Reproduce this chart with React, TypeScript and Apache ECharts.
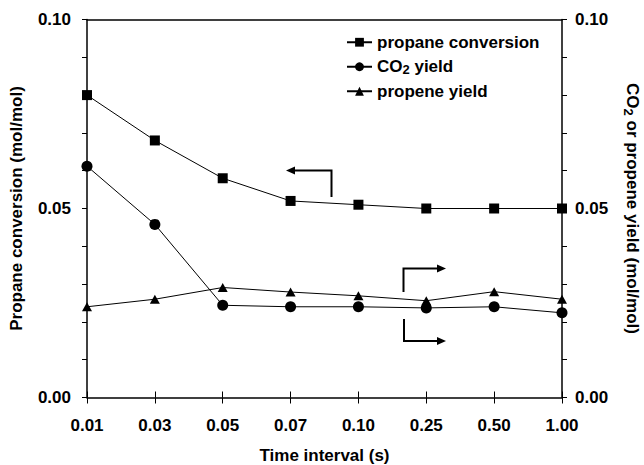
import React, { useEffect, useRef } from "react";
import * as echarts from "echarts";

const categories = ["0.01", "0.03", "0.05", "0.07", "0.10", "0.25", "0.50", "1.00"];
const propaneConversion = [0.080, 0.068, 0.058, 0.052, 0.051, 0.050, 0.050, 0.050];
const co2Yield = [0.0612, 0.0458, 0.0244, 0.0240, 0.0240, 0.0237, 0.0240, 0.0224];
const propeneYield = [0.0240, 0.0260, 0.0291, 0.0279, 0.0269, 0.0256, 0.0280, 0.0260];
const seriesNames = ["propane conversion", "CO2 yield", "propene yield"];

const FONT = "'Liberation Sans', Arial, sans-serif";
const FS = 17;

export default function App() {
  const ref = useRef<HTMLDivElement>(null);
  useEffect(() => {
    if (!ref.current) return;
    const chart = echarts.init(ref.current, undefined, { renderer: "svg" });
    const labelFmt = (v: number) => (Math.round(v * 100) % 5 === 0 ? v.toFixed(2) : "");
    const subRich = {
      sub: { fontSize: 13, fontWeight: "bold", fontFamily: FONT, color: "#000", verticalAlign: "bottom", padding: [8, 0, 0, 0] },
    };
    const yBase = (pos: string, name: string, gap: number, rot: number, margin: number) => ({
      type: "value",
      position: pos,
      min: 0,
      max: 0.1,
      interval: 0.01,
      name,
      nameLocation: "middle",
      nameGap: gap,
      nameRotate: rot,
      nameTextStyle: { fontSize: FS, fontWeight: "bold", fontFamily: FONT, color: "#000", rich: subRich },
      axisLine: { show: true, lineStyle: { color: "#000", width: 1.5 } },
      axisTick: { show: true, inside: false, length: 5, lineStyle: { color: "#000", width: 1 } },
      axisLabel: { formatter: labelFmt, fontSize: FS, fontWeight: "bold", fontFamily: FONT, color: "#000", margin },
      splitLine: { show: false },
    });
    chart.setOption({
      animation: false,
      backgroundColor: "#fff",
      grid: { left: 87, right: 82, top: 19.5, bottom: 67.5, outerBoundsMode: "none", containLabel: false },
      legend: {
        orient: "vertical",
        left: 346,
        top: 33,
        padding: 0,
        itemWidth: 25,
        itemHeight: 11,
        itemGap: 6,
        data: seriesNames,
        formatter: (n: string) => (n === "CO2 yield" ? "CO{sub|2} yield" : n),
        textStyle: { fontSize: FS, fontWeight: "bold", fontFamily: FONT, color: "#000", lineHeight: 18.5, rich: subRich },
      },
      xAxis: [
        {
          type: "category",
          data: categories,
          boundaryGap: false,
          position: "bottom",
          name: "Time interval (s)",
          nameLocation: "middle",
          nameGap: 49,
          nameTextStyle: { fontSize: FS, fontWeight: "bold", fontFamily: FONT, color: "#000" },
          axisLine: { show: true, lineStyle: { color: "#000", width: 1.5 } },
          axisTick: { show: true, inside: false, length: 6, alignWithLabel: true, lineStyle: { color: "#000", width: 1 } },
          axisLabel: { fontSize: FS, fontWeight: "bold", fontFamily: FONT, color: "#000", margin: 19, interval: 0 },
          splitLine: { show: false },
        },
        {
          type: "category",
          data: categories,
          boundaryGap: false,
          position: "bottom",
          axisLine: { show: false },
          axisTick: { show: true, inside: true, length: 6, lineStyle: { color: "#000", width: 1 } },
          axisLabel: { show: false },
          splitLine: { show: false },
        },
        {
          type: "category",
          data: categories,
          boundaryGap: false,
          position: "top",
          axisLine: { show: true, lineStyle: { color: "#000", width: 1.5 } },
          axisTick: { show: false },
          axisLabel: { show: false },
          splitLine: { show: false },
        },
      ],
      yAxis: [
        yBase("left", "Propane conversion (mol/mol)", 62, 90, 16),
        yBase("right", "CO{sub|2} or propene yield (mol/mol)", 60, -90, 13),
      ],
      series: [
        {
          name: seriesNames[0],
          type: "line",
          xAxisIndex: 0,
          yAxisIndex: 0,
          data: propaneConversion,
          symbol: "rect",
          symbolSize: 10,
          lineStyle: { color: "#000", width: 1 },
          itemStyle: { color: "#000" },
        },
        {
          name: seriesNames[1],
          type: "line",
          xAxisIndex: 0,
          yAxisIndex: 1,
          data: co2Yield,
          symbol: "circle",
          symbolSize: 11,
          lineStyle: { color: "#000", width: 1 },
          itemStyle: { color: "#000" },
        },
        {
          name: seriesNames[2],
          type: "line",
          xAxisIndex: 0,
          yAxisIndex: 1,
          data: propeneYield,
          symbol: "triangle",
          symbolSize: [10, 9],
          lineStyle: { color: "#000", width: 1 },
          itemStyle: { color: "#000" },
        },
      ],
      graphic: [
        { type: "polyline", shape: { points: [[331.5, 197], [331.5, 170.5], [294, 170.5]] }, style: { stroke: "#000", lineWidth: 2, fill: "none" } },
        { type: "polygon", shape: { points: [[286, 170.5], [295, 166.5], [295, 174.5]] }, style: { fill: "#000" } },
        { type: "polyline", shape: { points: [[403.5, 292], [403.5, 268.5], [438, 268.5]] }, style: { stroke: "#000", lineWidth: 2, fill: "none" } },
        { type: "polygon", shape: { points: [[446, 268.5], [437, 264.5], [437, 272.5]] }, style: { fill: "#000" } },
        { type: "polyline", shape: { points: [[404, 319], [404, 341], [438, 341]] }, style: { stroke: "#000", lineWidth: 2, fill: "none" } },
        { type: "polygon", shape: { points: [[446, 341], [437, 337], [437, 345]] }, style: { fill: "#000" } },
      ],
    });
    return () => chart.dispose();
  }, []);
  return <div ref={ref} style={{ width: 644, height: 465, position: "absolute", left: 0, top: 0 }} />;
}
